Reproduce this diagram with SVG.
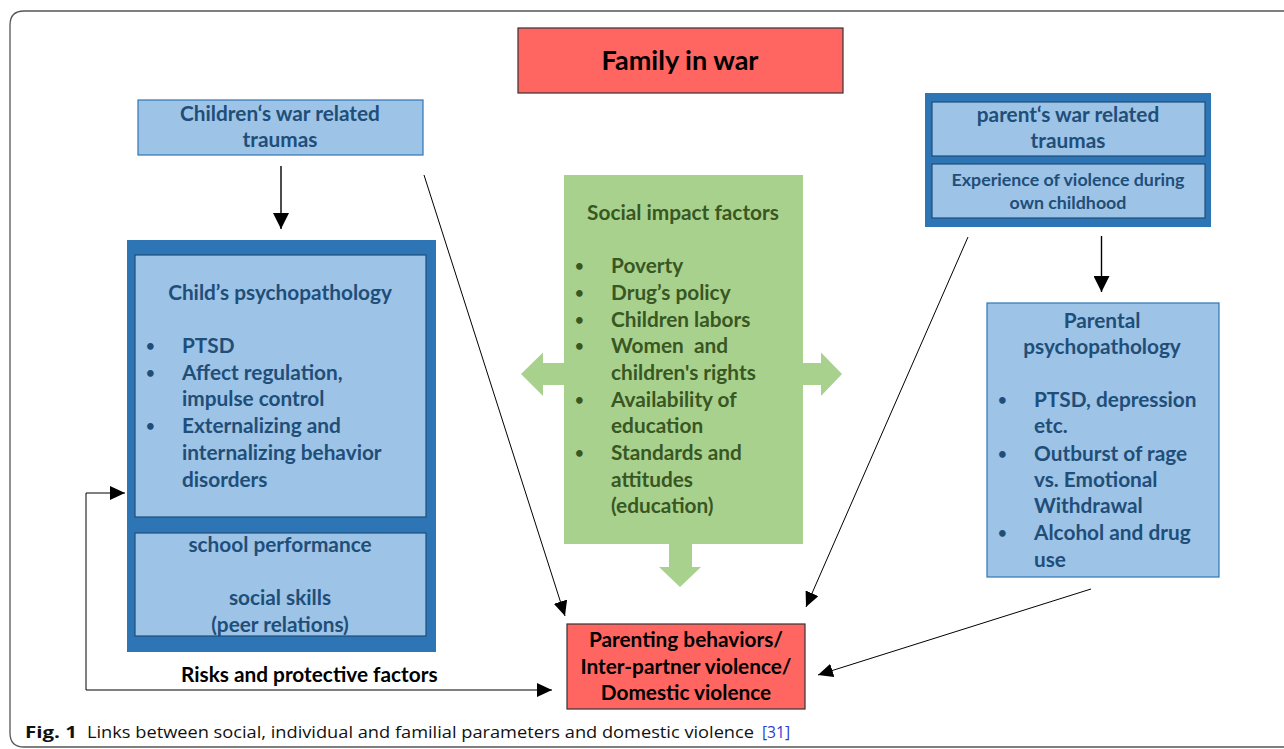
<svg xmlns="http://www.w3.org/2000/svg" width="1284" height="749" viewBox="0 0 1284 749">
<defs>
<style>
.bt{font-family:Lato,"Open Sans","Liberation Sans",sans-serif;font-weight:700;font-size:20.8px;fill:#1f4e79}
.gt{font-family:Lato,"Open Sans","Liberation Sans",sans-serif;font-weight:700;font-size:20.8px;fill:#385723}
.kt{font-family:Lato,"Open Sans","Liberation Sans",sans-serif;font-weight:700;font-size:20.8px;fill:#000}
.bu{font-size:15px}
.lb{fill:#9dc3e6;stroke:#2e75b6;stroke-width:1.2}
.ib{fill:#9dc3e6;stroke:#1f4e79;stroke-width:1.2}
.ob{fill:#2e75b6}
.rd{fill:#ff6661;stroke:#333;stroke-width:1.2}
.gr{fill:#a9d18e}
.ln{fill:none;stroke:#000;stroke-width:1}
.dn{fill:none;stroke:#000;stroke-width:1.4}
.c{text-anchor:middle}
.cap{font-family:"Open Sans","Liberation Sans",sans-serif;font-size:16px;fill:#111}
</style>
<marker id="ah" markerUnits="userSpaceOnUse" markerWidth="16" markerHeight="14" refX="15" refY="7" orient="auto">
<path d="M0,0 L15,7 L0,14 Z" fill="#000"/>
</marker>
<marker id="ahs" markerUnits="userSpaceOnUse" markerWidth="16" markerHeight="14" refX="15" refY="7" orient="auto-start-reverse">
<path d="M0,0 L15,7 L0,14 Z" fill="#000"/>
</marker>
<marker id="ahd" markerUnits="userSpaceOnUse" markerWidth="17" markerHeight="16" refX="16" refY="8" orient="auto">
<path d="M0,0 L16,8 L0,16 Z" fill="#000"/>
</marker>
</defs>
<rect width="1284" height="749" fill="#fff"/>
<path d="M1284,11 L24,11 Q10,11 10,25 L10,733 Q10,747 24,747 L1284,747" fill="none" stroke="#555" stroke-width="1.3"/>

<g id="family-in-war">
<rect class="rd" x="518" y="28" width="325" height="65"/>
<text class="kt c" x="680" y="70" style="font-size:27px">Family in war</text>
</g>

<g id="children-traumas">
<rect class="lb" x="138" y="100" width="285" height="55"/>
<text class="bt c" x="280" y="121">Children‘s war related</text>
<text class="bt c" x="280" y="147">traumas</text>
</g>

<g id="child-psychopathology">
<rect class="ob" x="127" y="240" width="309" height="412"/>
<rect class="ib" x="135" y="255" width="291" height="262"/>
<text class="bt c" x="280" y="300">Child’s psychopathology</text>
<text class="bt bu" x="146" y="351">•</text><text class="bt" x="182" y="353">PTSD</text>
<text class="bt bu" x="146" y="378">•</text><text class="bt" x="182" y="380">Affect regulation,</text>
<text class="bt" x="182" y="406">impulse control</text>
<text class="bt bu" x="146" y="431">•</text><text class="bt" x="182" y="433">Externalizing and</text>
<text class="bt" x="182" y="460">internalizing behavior</text>
<text class="bt" x="182" y="487">disorders</text>
<rect class="ib" x="135" y="533" width="291" height="103"/>
<text class="bt c" x="280" y="552">school performance</text>
<text class="bt c" x="280" y="605">social skills</text>
<text class="bt c" x="280" y="632">(peer relations)</text>
</g>

<g id="social-impact-factors">
<rect class="gr" x="564" y="175" width="239" height="369"/>
<polygon class="gr" points="564,363 543,363 543,352.5 521,374 543,396 543,385 564,385"/>
<polygon class="gr" points="803,363 821,363 821,352.5 842,374 821,396 821,385 803,385"/>
<polygon class="gr" points="669,544 692,544 692,567 701,567 680,587 659,567 669,567"/>
<text class="gt c" x="683" y="220">Social impact factors</text>
<text class="gt bu" x="575" y="271">•</text><text class="gt" x="611" y="273">Poverty</text>
<text class="gt bu" x="575" y="298">•</text><text class="gt" x="611" y="300">Drug’s policy</text>
<text class="gt bu" x="575" y="325">•</text><text class="gt" x="611" y="327">Children labors</text>
<text class="gt bu" x="575" y="351">•</text><text class="gt" x="611" y="353" xml:space="preserve">Women  and</text>
<text class="gt" x="611" y="380">children's rights</text>
<text class="gt bu" x="575" y="405">•</text><text class="gt" x="611" y="407">Availability of</text>
<text class="gt" x="611" y="433">education</text>
<text class="gt bu" x="575" y="458">•</text><text class="gt" x="611" y="460">Standards and</text>
<text class="gt" x="611" y="487">attitudes</text>
<text class="gt" x="611" y="513">(education)</text>
</g>

<g id="parent-traumas">
<rect class="ob" x="925" y="93" width="286" height="134"/>
<rect class="ib" x="932" y="102" width="273" height="54"/>
<text class="bt c" x="1068" y="122">parent‘s war related</text>
<text class="bt c" x="1068" y="148">traumas</text>
<rect class="ib" x="932" y="164" width="273" height="54"/>
<text class="bt c" x="1068" y="186" style="font-size:17.8px">Experience of violence during</text>
<text class="bt c" x="1068" y="209" style="font-size:17.8px">own childhood</text>
</g>

<g id="parental-psychopathology">
<rect class="lb" x="987" y="303" width="232" height="274"/>
<text class="bt c" x="1102" y="328">Parental</text>
<text class="bt c" x="1102" y="354">psychopathology</text>
<text class="bt bu" x="998" y="405">•</text><text class="bt" x="1034" y="407">PTSD, depression</text>
<text class="bt" x="1034" y="433">etc.</text>
<text class="bt bu" x="998" y="459">•</text><text class="bt" x="1034" y="461">Outburst of rage</text>
<text class="bt" x="1034" y="487">vs. Emotional</text>
<text class="bt" x="1034" y="513">Withdrawal</text>
<text class="bt bu" x="998" y="538">•</text><text class="bt" x="1034" y="540">Alcohol and drug</text>
<text class="bt" x="1034" y="567">use</text>
</g>

<g id="domestic-violence">
<rect class="rd" x="567" y="624" width="238" height="85"/>
<text class="kt c" x="686" y="647">Parenting behaviors/</text>
<text class="kt c" x="686" y="674">Inter-partner violence/</text>
<text class="kt c" x="686" y="700">Domestic violence</text>
</g>

<g id="connectors">
<line class="dn" x1="281" y1="166" x2="281" y2="229" marker-end="url(#ahd)"/>
<line class="dn" x1="1101.5" y1="236" x2="1101.5" y2="292" marker-end="url(#ahd)"/>
<line class="ln" x1="424" y1="175" x2="565" y2="616" marker-end="url(#ah)"/>
<line class="ln" x1="968" y1="237" x2="806" y2="607" marker-end="url(#ah)"/>
<line class="ln" x1="1091" y1="589" x2="818" y2="675" marker-end="url(#ah)"/>
<path class="ln" d="M125,493 L86,493 L86,690 L552,690" marker-start="url(#ahs)" marker-end="url(#ah)"/>
<text class="kt" x="181" y="682">Risks and protective factors</text>
</g>

<g id="caption">
<text class="cap" x="25" y="738" font-weight="700" textLength="52" lengthAdjust="spacingAndGlyphs">Fig. 1</text>
<text class="cap" x="87" y="738" textLength="667" lengthAdjust="spacingAndGlyphs">Links between social, individual and familial parameters and domestic violence</text>
<text class="cap" x="762" y="738" style="fill:#2a3fcf" textLength="28" lengthAdjust="spacingAndGlyphs">[31]</text>
</g>
</svg>
